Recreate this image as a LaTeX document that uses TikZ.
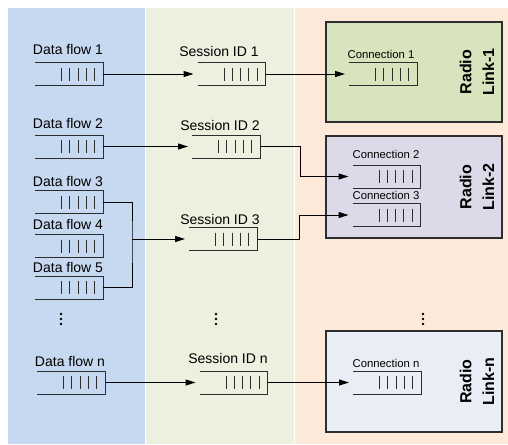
\documentclass[tikz,border=0pt]{standalone}
\usepackage{fontspec}
\setmainfont{Liberation Sans}
\usetikzlibrary{arrows.meta}

\definecolor{flowblue}{RGB}{198,217,240}
\definecolor{sessgreen}{RGB}{235,241,222}
\definecolor{radiopeach}{RGB}{253,233,218}
\definecolor{linkgreen}{RGB}{215,228,189}
\definecolor{linkviolet}{RGB}{221,217,232}
\definecolor{linkgrey}{RGB}{233,237,245}
\definecolor{qline}{RGB}{45,45,45}

\tikzset{every picture/.style={line width=0.75pt}}
\tikzset{
  queue/.style={minimum width=51pt, minimum height=17.25pt, inner sep=0pt, outer sep=0pt},
  qlabel/.style={anchor=base, inner sep=0.75pt, font=\fontsize{10.5}{12}\selectfont},
  clabel/.style={anchor=base, inner sep=0.75pt, font=\fontsize{8.5}{10}\selectfont},
  linkbox/.style={draw=qline, line width=1pt, inner sep=0pt, minimum width=132pt},
  linktext/.style={rotate=90, align=center, inner sep=0.75pt, font=\fontsize{12}{17}\selectfont\bfseries},
  flow/.style={-{Triangle[length=7.5pt,width=4.5pt]}, shorten >=3pt},
}

\begin{document}
\begin{tikzpicture}[x=0.75pt,y=0.75pt,yscale=-1,xscale=1]
\useasboundingbox (0,0) rectangle (508,444);
\fill[white] (0,0) rectangle (508,444);

% columns
\fill[flowblue] (8,8) rectangle (145,444);
\fill[sessgreen] (146,8) rectangle (294,444);
\fill[radiopeach] (295,8) rectangle (508,444);

% radio links
\node[linkbox, fill=linkgreen, minimum height=75pt] (rl1) at (414,72) {};
\node[linkbox, fill=linkviolet, minimum height=76.5pt] (rl2) at (414,187) {};
\node[linkbox, fill=linkgrey, minimum height=75.75pt] (rln) at (414,381.5) {};
\node[linktext] (rt1) at (477,72) {Radio\\Link-1};
\node[linktext] (rt2) at (477,187) {Radio\\Link-2};
\node[linktext] (rtn) at (477,381.5) {Radio\\Link-n};

% data flow queues
\node[queue] (df1) at (69,74) {};
\node[queue] (df2) at (69,146.5) {};
\node[queue] (df3) at (69,202) {};
\node[queue] (df4) at (69,246) {};
\node[queue] (df5) at (69,287.5) {};
\node[queue] (dfn) at (71,382.5) {};

% session queues
\node[queue] (s1) at (231.5,74) {};
\node[queue] (s2) at (226,146.5) {};
\node[queue] (s3) at (223,239) {};
\node[queue] (sn) at (233.5,382.5) {};

% connection queues
\node[queue] (c1) at (383,74) {};
\node[queue] (c2) at (386.5,176.5) {};
\node[queue] (c3) at (386.5,215) {};
\node[queue] (cn) at (387,382.5) {};

% queue outlines and slots
\foreach \q in {df1,df2,df3,df4,df5,dfn,s1,s2,s3,sn,c1,c2,c3,cn}{
  \draw[qline] (\q.north west) -- (\q.north east) -- (\q.south east) -- (\q.south west);
  \foreach \k in {1,...,5}
    \draw[qline] (\q.north east) ++(-8.3*\k,5) -- ++(0,13);
}

% Text Node
\node[qlabel] (ldf1) at (68,54) {Data flow 1};
\node[qlabel] (ldf2) at (68,128) {Data flow 2};
\node[qlabel] (ldf3) at (68,186) {Data flow 3};
\node[qlabel] (ldf4) at (68,229) {Data flow 4};
\node[qlabel] (ldf5) at (68,272) {Data flow 5};
\node[qlabel] (ldfn) at (70,366) {Data flow n};
% Text Node
\node[qlabel] (ls1) at (219,56) {Session ID 1};
\node[qlabel] (ls2) at (220,130) {Session ID 2};
\node[qlabel] (ls3) at (220,224) {Session ID 3};
\node[qlabel] (lsn) at (228,363) {Session ID n};
% Text Node
\node[clabel] (lc1) at (381,58) {Connection 1};
\node[clabel] (lc2) at (386,158) {Connection 2};
\node[clabel] (lc3) at (386,199) {Connection 3};
\node[clabel] (lcn) at (386,367) {Connection n};

% flows into sessions
\coordinate (jn) at (132,239);
\draw[flow] (df1.east) -- (s1.west);
\draw[flow] (df2.east) -- (s2.west);
\draw (df3.east) -| (jn) |- (df5.east);
\draw[flow] (jn) -- (s3.west);
\draw[flow] (dfn.east) -- (sn.west);

% sessions onto connections
\draw[flow] (s1.east) -- (c1.west);
\draw[flow] (s2.east) -- ++(40,0) |- (c2.west);
\draw[flow] (s3.east) -- ++(42,0) |- (c3.west);
\draw[flow] (sn.east) -- (cn.west);

% more rows
\foreach \x in {61,216,423}
  \foreach \y in {314,319,324}
    \fill (\x,\y) circle (1.4);

\end{tikzpicture}
\end{document}
